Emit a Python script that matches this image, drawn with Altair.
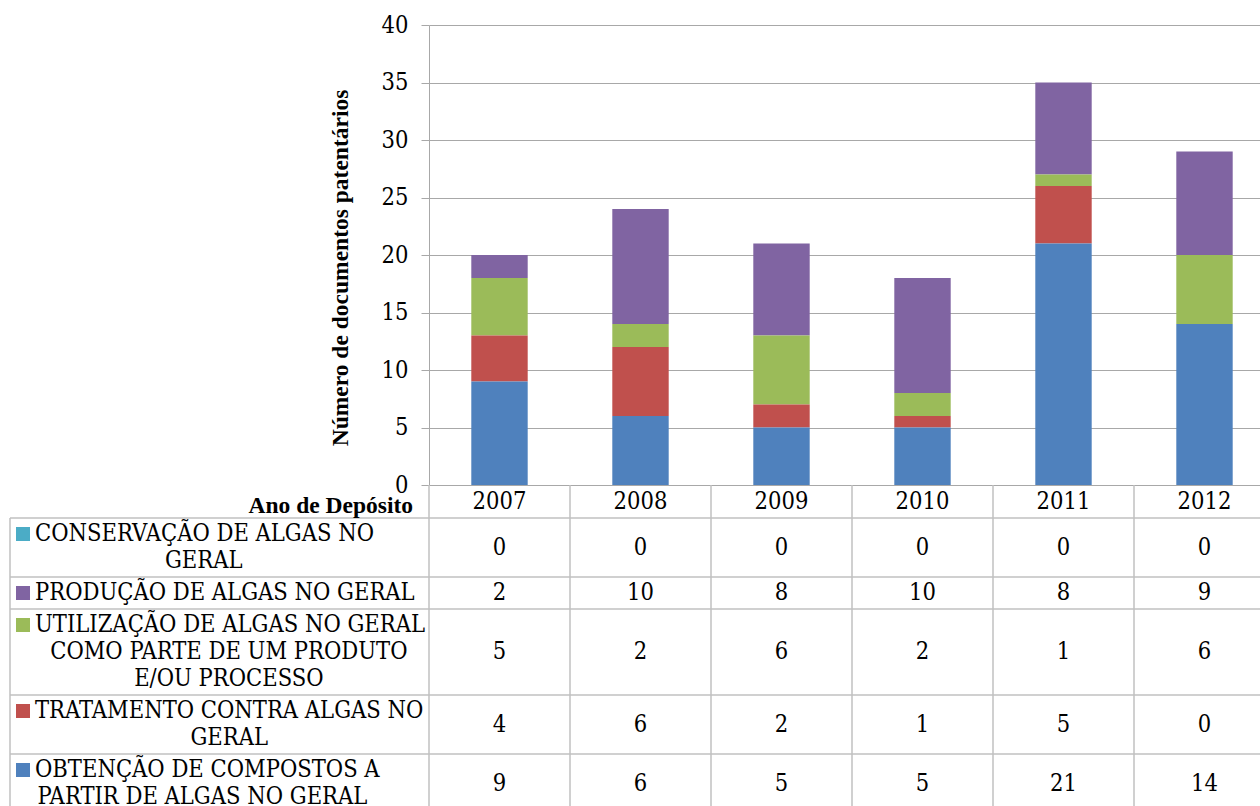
import unicodedata
import altair as alt
import pandas as pd

# ---------------- data ----------------
years = ["2007", "2008", "2009", "2010", "2011", "2012"]

obtencao = [9, 6, 5, 5, 21, 14]
tratamento = [4, 6, 2, 1, 5, 0]
utilizacao = [5, 2, 6, 2, 1, 6]
producao = [2, 10, 8, 10, 8, 9]
conservacao = [0, 0, 0, 0, 0, 0]

# table order, top -> bottom
series_names = [
    "CONSERVAÇÃO DE ALGAS NO GERAL",
    "PRODUÇÃO DE ALGAS NO GERAL",
    "UTILIZAÇÃO DE ALGAS NO GERAL COMO PARTE DE UM PRODUTO E/OU PROCESSO",
    "TRATAMENTO CONTRA ALGAS NO GERAL",
    "OBTENÇÃO DE COMPOSTOS A PARTIR DE ALGAS NO GERAL",
]
series_values = [conservacao, producao, utilizacao, tratamento, obtencao]
label_lines = [
    ["CONSERVAÇÃO DE ALGAS NO", "GERAL"],
    ["PRODUÇÃO DE ALGAS NO GERAL"],
    ["UTILIZAÇÃO DE ALGAS NO GERAL", "COMO PARTE DE UM PRODUTO", "E/OU PROCESSO"],
    ["TRATAMENTO CONTRA ALGAS NO", "GERAL"],
    ["OBTENÇÃO DE COMPOSTOS A", "PARTIR DE ALGAS NO GERAL"],
]
y_ticks = [0, 5, 10, 15, 20, 25, 30, 35, 40]
y_title = "Número de documentos patentários"
x_title = "Ano de Depósito"

# ---------------- styles / layout ----------------
series_colors = ["#4BACC6", "#8064A2", "#9BBB59", "#C0504D", "#4F81BD"]
FONT_B = "Liberation Serif"
FONT = "'DejaVu Serif Condensed', 'DejaVu Serif'"
FS = 23.5
GRID = "#A8A8A8"
TABLE_LINE = "#C0C0C0"

CANVAS_W, CANVAS_H = 1260, 806
LEFT, TOP = 429, 25
PLOT_H = 460
COL_W = 141
X_RANGE = COL_W * len(years)
HEADER_H = 33
LINE_H = 27
ROW_PAD = 5
TABLE_LEFT = 10 - LEFT
KEY_X = 23 - LEFT
TEXT_X = 35 - LEFT
X_TITLE_RIGHT = 413 - LEFT
X_TITLE_BASE = 28

# approximate Times advance widths (per 1000 em) to centre wrapped lines
TIMES_W = {' ': 250, 'A': 722, 'B': 667, 'C': 667, 'D': 722, 'E': 611, 'F': 556,
           'G': 722, 'H': 722, 'I': 333, 'J': 389, 'K': 722, 'L': 611, 'M': 889,
           'N': 722, 'O': 722, 'P': 556, 'Q': 722, 'R': 667, 'S': 556, 'T': 611,
           'U': 722, 'V': 722, 'W': 944, 'X': 722, 'Y': 722, 'Z': 611, '/': 278}


def text_width(s):
    total = 0
    for ch in s:
        base = unicodedata.normalize("NFD", ch)[0]
        total += TIMES_W.get(base, 600)
    return total / 1000 * FS


# ---------------- tables ----------------
bar_rows = []
for i, (name, vals) in enumerate(zip(series_names, series_values)):
    for y, v in zip(years, vals):
        bar_rows.append({"year": y, "series": name, "value": v,
                         "stack": len(series_names) - 1 - i})
bar_df = pd.DataFrame(bar_rows)

row_heights = [ROW_PAD + LINE_H * len(l) for l in label_lines]
bounds = [PLOT_H + HEADER_H]
for h in row_heights:
    bounds.append(bounds[-1] + h)
table_bottom = bounds[-1]

hline_df = pd.DataFrame({"y": bounds})

first_rows, cont_rows, cell_rows = [], [], []
for i, (name, lines, vals) in enumerate(zip(series_names, label_lines, series_values)):
    top, bot = bounds[i], bounds[i + 1]
    mid = (top + bot) / 2
    n = len(lines)
    cx = TEXT_X + text_width(lines[0]) / 2
    for k, line in enumerate(lines):
        ly = mid + (k - (n - 1) / 2) * LINE_H
        if k == 0:
            first_rows.append({"series": name, "text": line, "y": ly})
        else:
            cont_rows.append({"text": line, "y": ly, "cx": cx})
    for y, v in zip(years, vals):
        cell_rows.append({"year": y, "value": v, "y": mid})
first_df = pd.DataFrame(first_rows)
cont_df = pd.DataFrame(cont_rows)
cell_df = pd.DataFrame(cell_rows)
header_df = pd.DataFrame({"year": years, "y": [PLOT_H + HEADER_H / 2] * len(years)})
vline_df = pd.DataFrame({"year": years})
xtitle_df = pd.DataFrame({"text": [x_title], "y": [PLOT_H + X_TITLE_BASE]})

# ---------------- chart ----------------
x_scale = alt.Scale(domain=years, range=[0, X_RANGE], paddingInner=0, paddingOuter=0)
color_scale = alt.Scale(domain=series_names, range=series_colors)

bars = alt.Chart(bar_df).mark_bar(width=alt.RelativeBandSize(0.4)).encode(
    x=alt.X("year:N", scale=x_scale, sort=years, axis=None),
    y=alt.Y("value:Q", scale=alt.Scale(domain=[0, 40], range=[PLOT_H, 0], nice=False),
            stack="zero",
            axis=alt.Axis(title=y_title, values=y_ticks, titleFont=FONT_B, titleFontSize=FS,
                          titleFontWeight="bold", titleColor="black", titleAngle=270,
                          titleX=-89, titleY=242.5, titleAlign="center",
                          titleBaseline="middle",
                          labelFont=FONT, labelFontSize=FS, labelColor="black",
                          labelPadding=13, tickSize=8, tickColor=GRID,
                          domainColor=GRID, gridColor=GRID, grid=True)),
    color=alt.Color("series:N", scale=color_scale, legend=None),
    order=alt.Order("stack:Q", sort="ascending"),
)

hlines = alt.Chart(hline_df).mark_rule(color=TABLE_LINE, strokeWidth=1.5).encode(
    y=alt.Y("y:Q", scale=None),
    x=alt.value(TABLE_LEFT),
    x2=alt.value(X_RANGE),
)

vlines = alt.Chart(vline_df).mark_rule(color=TABLE_LINE, strokeWidth=1.5).encode(
    x=alt.X("year:N", scale=x_scale, bandPosition=0, axis=None),
    y=alt.value(PLOT_H),
    y2=alt.value(table_bottom),
)

left_border = alt.Chart(pd.DataFrame({"y": [bounds[0]]})).mark_rule(
    color=TABLE_LINE, strokeWidth=1.5).encode(
    x=alt.value(TABLE_LEFT),
    y=alt.Y("y:Q", scale=None),
    y2=alt.value(table_bottom),
)

header = alt.Chart(header_df).mark_text(
    align="center", baseline="middle", font=FONT, fontSize=FS, color="black").encode(
    x=alt.X("year:N", scale=x_scale, axis=None),
    y=alt.Y("y:Q", scale=None),
    text="year:N",
)

xtitle = alt.Chart(xtitle_df).mark_text(
    align="right", baseline="alphabetic", font=FONT_B, fontSize=FS,
    fontWeight="bold", color="black").encode(
    x=alt.value(X_TITLE_RIGHT),
    y=alt.Y("y:Q", scale=None),
    text="text:N",
)

keys = alt.Chart(first_df).mark_square(size=196, opacity=1).encode(
    x=alt.value(KEY_X),
    y=alt.Y("y:Q", scale=None),
    color=alt.Color("series:N", scale=color_scale, legend=None),
)

first_text = alt.Chart(first_df).mark_text(
    align="left", baseline="middle", font=FONT, fontSize=FS, color="black").encode(
    x=alt.value(TEXT_X),
    y=alt.Y("y:Q", scale=None),
    text="text:N",
)

cont_text = alt.Chart(cont_df).mark_text(
    align="center", baseline="middle", font=FONT, fontSize=FS, color="black").encode(
    x=alt.X("cx:Q", scale=None),
    y=alt.Y("y:Q", scale=None),
    text="text:N",
)

cells = alt.Chart(cell_df).mark_text(
    align="center", baseline="middle", font=FONT, fontSize=FS, color="black").encode(
    x=alt.X("year:N", scale=x_scale, axis=None),
    y=alt.Y("y:Q", scale=None),
    text="value:Q",
)

chart = alt.layer(bars, hlines, vlines, left_border, header, xtitle, keys,
                  first_text, cont_text, cells).properties(
    width=CANVAS_W - LEFT,
    height=PLOT_H,
    padding={"left": LEFT, "top": TOP, "right": 0, "bottom": CANVAS_H - TOP - PLOT_H},
    autosize=alt.AutoSizeParams(type="none"),
    background="white",
).configure_view(stroke=None)

chart.save("out.html", embed_options={"renderer": "svg", "actions": False})
